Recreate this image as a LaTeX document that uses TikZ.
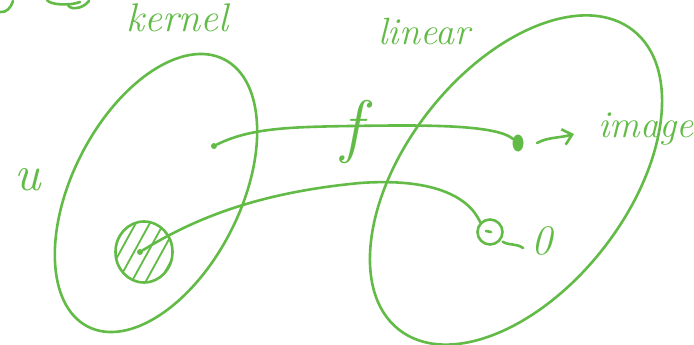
\documentclass[tikz,border=0pt]{standalone}
\usepackage{fontspec}
\usetikzlibrary{shapes.geometric,arrows.meta}
\definecolor{pen}{RGB}{98,187,70}
\begin{document}
\begin{tikzpicture}[x=1pt,y=1pt,
  pen/.style={draw=pen, line width=2.6pt, line cap=round, line join=round},
  hatch/.style={draw=pen, line width=1.8pt, line cap=round},
  hand/.style={text=pen, inner sep=0pt, font=\fontsize{38}{40}\selectfont\itshape},
  set/.style={pen, ellipse, inner sep=0pt},
  dot/.style={circle, fill=pen, inner sep=0pt, minimum size=6pt}]
\useasboundingbox (0,-345) rectangle (694,0);

% the two sets
\node[set, rotate=63, minimum width=300pt, minimum height=168pt] (U) at (156,-193) {};
\node[set, rotate=52, minimum width=380pt, minimum height=222pt] (V) at (516,-180) {};

% labels
\node[hand, anchor=base west, font=\fontsize{40}{42}\selectfont\itshape] (kernel) at (126,-32) {kernel};
\node[hand, anchor=base west] (linear) at (378,-45) {linear};
\node[hand, anchor=base west] (image) at (598,-137) {image};
\node[hand, font=\fontsize{50}{50}\selectfont\itshape] (u) at (28,-180) {u};
\node[hand, font=\fontsize{42}{42}\selectfont\itshape] (zero) at (542,-241) {0};
\node[hand, font=\fontsize{70}{70}\selectfont\itshape] (f) at (352,-132) {f};

% fragments at top left
\draw[pen] (0,-12) .. controls (6,-13) and (11,-8) .. (13,-1);
\draw[pen] (47,0) .. controls (50,-5) and (70,-6) .. (80,-2);
\draw[pen] (68,-4) .. controls (68,-10) and (82,-10) .. (89,-1);

% points
\node[dot, minimum size=6pt] (p) at (214,-146) {};
\node[dot, ellipse, minimum width=11pt, minimum height=17pt] (q) at (518,-143) {};

% hatched blob (kernel)
\begin{scope}
  \clip (144,-252) ellipse [x radius=28, y radius=30];
  \foreach \i in {-66,-52,...,66}
    \draw[hatch] (144+\i-22,-292) -- (144+\i+22,-212);
\end{scope}
\node[pen, draw, ellipse, minimum width=57pt, minimum height=61pt, inner sep=0pt] (blob) at (144,-252) {};
\node[dot, minimum size=6pt] (b) at (140,-252) {};

% small circle (zero vector)
\node[pen, draw, circle, minimum size=25pt, inner sep=0pt] (o) at (490,-232) {};
\draw[line width=1pt, pen] (486,-231) -- (491,-232);

% the map f
\draw[pen] (p) .. controls (250,-128) and (290,-127) .. (350,-126)
                .. controls (420,-125) and (495,-124) .. (q);
\draw[pen] (b) .. controls (200,-215) and (265,-192) .. (360,-183)
                .. controls (430,-178) and (468,-195) .. (o.north west);

% arrow to image
\draw[pen, -{Straight Barb[length=9pt, width=16pt]}] (537,-143)
  .. controls (548,-137) and (560,-138) .. (574,-134);

% squiggle to 0
\draw[pen] (o.south east) ++(3,0) .. controls (510,-246) and (516,-243) .. (523,-248);
\end{tikzpicture}
\end{document}
